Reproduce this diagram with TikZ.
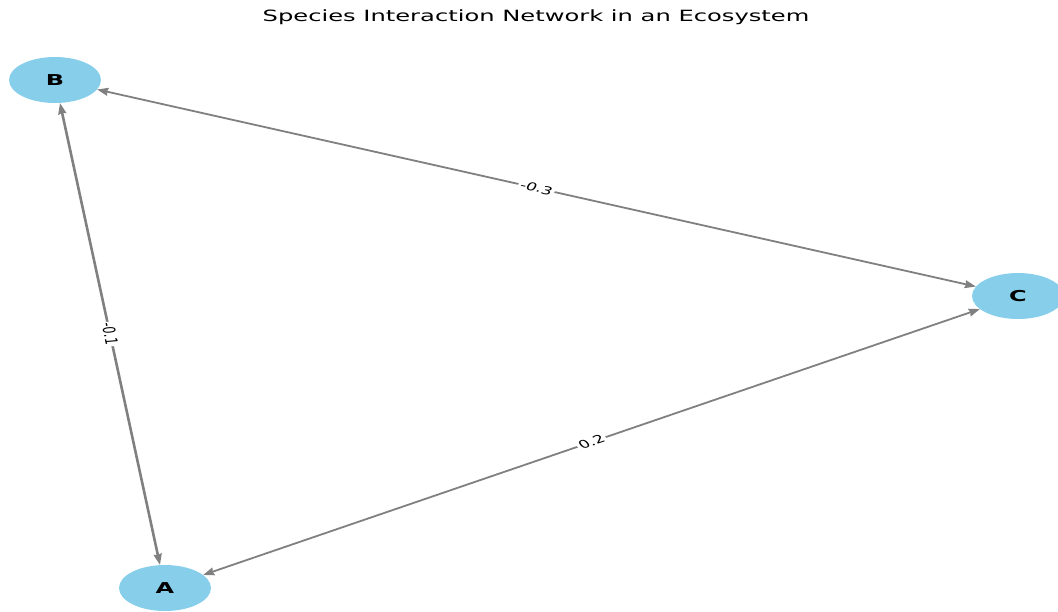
\documentclass[tikz,border=0pt]{standalone}
\usepackage{fontspec}
\setmainfont{DejaVu Sans}
\usetikzlibrary{shapes.geometric,arrows.meta,calc}
\definecolor{skyblue}{RGB}{135,206,235}
\definecolor{edgegray}{RGB}{128,128,128}
\newcommand{\widetxt}[2]{\scalebox{#1}[1]{#2}}
\begin{document}
\begin{tikzpicture}[x=1pt,y=-1pt,
  species/.style={ellipse, fill=skyblue, minimum width=92pt, minimum height=46pt, inner sep=0pt,
    font=\bfseries\fontsize{15}{15}\selectfont},
  link/.style={draw=edgegray, line width=1.8pt,
    {Stealth[length=11pt,width=8pt,inset=1pt]}-{Stealth[length=11pt,width=8pt,inset=1pt]}},
  wlabel/.style={fill=white, transform shape, inner sep=1.5pt, font=\fontsize{11}{11}\selectfont}]
\useasboundingbox (0,0) rectangle (1058,611);
\node (title) at (536,17) {\fontsize{15.5}{15.5}\selectfont\widetxt{1.56}{Species Interaction Network in an Ecosystem}};
\node[species] (B) at (55,80) {\widetxt{1.6}{B}};
\node[species] (C) at (1018,296) {\widetxt{1.6}{C}};
\node[species] (A) at (165,588) {\widetxt{1.6}{A}};
\draw[link, line width=2.6pt] (B) -- (A);
\draw[link] (B) -- (C);
\draw[link] (A) -- (C);
\begin{scope}[shift={($(B.center)!0.5!(A.center)$)}, xscale=1.55, rotate=-82]
  \node[wlabel] (lba) at (0,0) {-0.1};
\end{scope}
\begin{scope}[shift={($(B.center)!0.5!(C.center)$)}, xscale=1.55, rotate=-19.2]
  \node[wlabel] (lbc) at (0,0) {-0.3};
\end{scope}
\begin{scope}[shift={($(A.center)!0.5!(C.center)$)}, xscale=1.55, rotate=28]
  \node[wlabel] (lac) at (0,0) {0.2};
\end{scope}
\end{tikzpicture}
\end{document}
